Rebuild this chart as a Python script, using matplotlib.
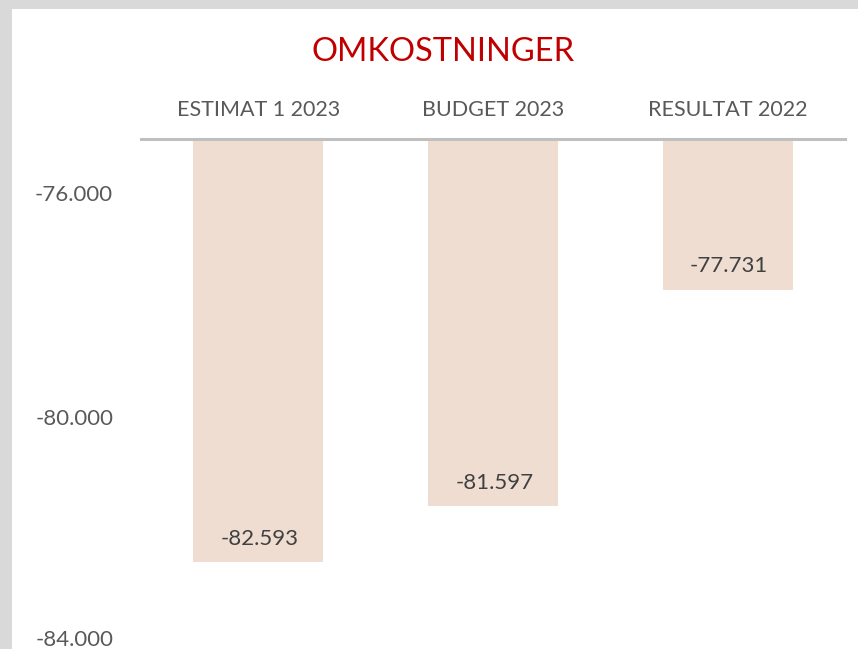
import matplotlib.pyplot as plt
from matplotlib.patches import Rectangle
from matplotlib.ticker import FuncFormatter
from matplotlib.transforms import ScaledTranslation

categories = ["ESTIMAT 1 2023", "BUDGET 2023", "RESULTAT 2022"]
values = [-82593, -81597, -77731]
yticks = [-84000, -80000, -76000]

W, H = 858, 649
plt.rcParams["font.family"] = ["Lato", "DejaVu Sans"]

fig = plt.figure(figsize=(W / 100, H / 100), dpi=100, facecolor="#D9D9D9")
# white chart area inside grey frame
fig.patches.append(Rectangle((12 / W, 0), 1 - 12 / W, 1 - 9 / H,
                             transform=fig.transFigure, facecolor="white",
                             edgecolor="none", zorder=-5))

ax = fig.add_axes([141 / W, 1 - 641 / H, (845 - 141) / W, (641 - 139) / H])
ax.set_zorder(5)
ax.set_facecolor("none")

x = range(len(categories))
ax.bar(x, values, width=0.555, color="#EFDDD2")
ax.set_xlim(-0.5, len(categories) - 0.5)
ax.set_ylim(-84000, -75040)

for xi, v in zip(x, values):
    ax.annotate(f"{v:,}".replace(",", "."), (xi, v), xytext=(1, 17),
                textcoords="offset points", ha="center", va="center",
                fontsize=16, color="#404040")

for s in ["left", "right", "bottom"]:
    ax.spines[s].set_visible(False)
ax.spines["top"].set_color("#BFBFBF")
ax.spines["top"].set_linewidth(2.2)

ax.xaxis.tick_top()
ax.set_xticks(list(x), categories)
ax.tick_params(axis="x", length=0, pad=14, labelsize=15.5, labelcolor="#595959")
ax.set_yticks(yticks)
ax.yaxis.set_major_formatter(FuncFormatter(lambda v, p: f"{int(v):,}".replace(",", ".")))
ax.tick_params(axis="y", length=0, pad=20, labelsize=16, labelcolor="#595959")
for lab in ax.get_yticklabels():
    lab.set_verticalalignment("center_baseline")
# lowest label sits a bit higher so it isn't clipped at the bottom edge
lowest = ax.get_yticklabels()[0]
lowest.set_transform(lowest.get_transform() + ScaledTranslation(0, 3 / 100, fig.dpi_scale_trans))

fig.text(443 / W, 1 - 52 / H, "OMKOSTNINGER", ha="center", va="center",
         fontsize=23.5, color="#C00000")

fig.savefig("out.png", dpi=100, facecolor=fig.get_facecolor())
